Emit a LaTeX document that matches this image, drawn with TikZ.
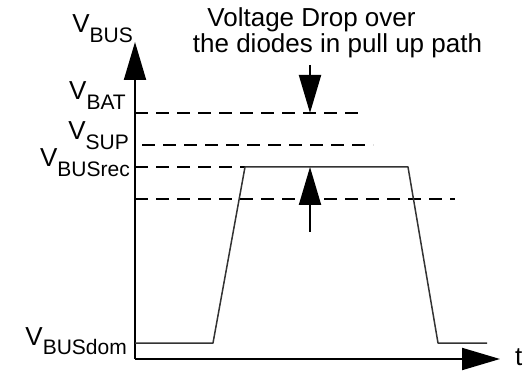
\documentclass[tikz,border=0pt]{standalone}
\usepackage{fontspec}
\setmainfont{Liberation Sans}
\usetikzlibrary{arrows.meta}

\newcommand{\vlab}[1]{V\raisebox{-9.5pt}{\fontsize{21}{21}\selectfont #1}}

\begin{document}
\begin{tikzpicture}[x=1pt, y=1pt, font=\fontsize{26}{28}\selectfont,
  axis/.style={line width=2pt, -{Triangle[length=38pt,width=22pt]}},
  level/.style={line width=1.6pt, dash pattern=on 13pt off 8pt},
  signal/.style={line width=1.5pt, black!80, line join=round},
  marker/.style={line width=2pt, -{Triangle[length=38pt,width=22pt]}},
  lab/.style={anchor=base east, inner sep=0pt}]
\useasboundingbox (0,0) rectangle (529,372);
% axes
\coordinate (O) at (135,13);
\coordinate (ytip) at (135,330);
\coordinate (xtip) at (500,13);
\draw[axis] (O) -- (ytip);
\draw[axis] (O) -- (xtip);
\node[lab] (vbus) at (133,339) {\vlab{BUS}};
\node[anchor=base west, inner sep=0pt] (t) at (515,7) {t};
% levels
\coordinate (batL) at (135,259);  \coordinate (batR) at (362,259);
\coordinate (supL) at (142,227);  \coordinate (supR) at (373,227);
\coordinate (recL) at (135,205);
\coordinate (lowL) at (135,173);  \coordinate (lowR) at (455,173);
\draw[level] (batL) -- (batR);
\draw[level] (supL) -- (supR);
\draw[level] (lowL) -- (lowR);
\node[lab] (vbat) at (126,272) {\vlab{BAT}};
\node[lab] (vsup) at (129,232) {\vlab{SUP}};
\node[lab] (vrec) at (130,205) {\vlab{BUSrec}};
\node[lab] (vdom) at (127,27) {\vlab{BUSdom}};
% bus signal
\coordinate (s0) at (135,29);
\coordinate (s1) at (213,29);
\coordinate (s2) at (245,205);
\coordinate (s3) at (408,205);
\coordinate (s4) at (438,29);
\coordinate (s5) at (487,29);
\draw[level] (recL) -- (s2);
\draw[signal] (s0) -- (s1) -- (s2) -- (s3) -- (s4) -- (s5);
% voltage drop
\node[anchor=base, inner sep=0pt] (dropA) at (311.5,345) {Voltage Drop over};
\node[anchor=base, inner sep=0pt] (dropB) at (337.5,319) {the diodes in pull up path};
\coordinate (downTail) at (310,307);
\coordinate (downTip) at (310,259);
\coordinate (upTail) at (310,140);
\coordinate (upTip) at (310,205);
\draw[marker] (downTail) -- (downTip);
\draw[marker] (upTail) -- (upTip);
\end{tikzpicture}
\end{document}
